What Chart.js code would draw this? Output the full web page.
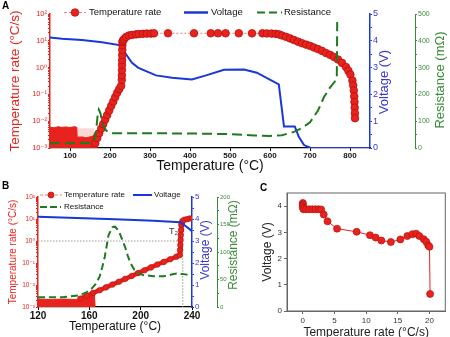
<!DOCTYPE html>
<html><head><meta charset="utf-8">
<script src="https://cdn.jsdelivr.net/npm/chart.js@4.4.1/dist/chart.umd.min.js"></script>
<style>
html,body{margin:0;padding:0;background:#fff;width:450px;height:337px;overflow:hidden;position:relative;font-family:'Liberation Sans',Arial,sans-serif}
canvas{position:absolute}
.lbl{position:absolute;font-weight:bold;font-size:10px;line-height:10px;color:#000}
</style></head><body>
<canvas id="cA" width="450" height="175" style="left:0;top:0;width:450px;height:175px"></canvas>
<canvas id="cB" width="245" height="165" style="left:0;top:175px;width:245px;height:165px"></canvas>
<canvas id="cC" width="205" height="166" style="left:245px;top:175px;width:205px;height:166px"></canvas>
<div class="lbl" style="left:2px;top:1px">A</div>
<div class="lbl" style="left:2px;top:181px">B</div>
<div class="lbl" style="left:260px;top:183px">C</div>
<script>
// ---------- shared tick labels ----------
const rateTickValues = [0.001, 0.01, 0.1, 1, 10, 100];
const rateTickLabels = ['10⁻³', '10⁻²', '10⁻¹', '10⁰', '10¹', '10²'];
const voltTicks = [0, 1, 2, 3, 4, 5];

// ---------- Panel A ----------
const aTicksT = [100, 200, 300, 400, 500, 600, 700, 800];
const aResTicks = [0, 100, 200, 300, 400, 500];
const aNoiseT    = [50, 60, 70, 80, 90, 100, 110, 117, 118, 130, 140, 150, 158, 163, 167, 168];
const aNoiseRate = [0.0060, 0.0057, 0.0062, 0.0059, 0.0061, 0.0058, 0.0062, 0.0060, 0.0025, 0.0026, 0.0024, 0.0026, 0.0028, 0.0040, 0.0045, 0.001];
const aHazeT    = [118, 160];
const aHazeRate = [0.0055, 0.0055];
const aRateT = [163, 168, 173, 178, 183, 188, 193, 198, 203, 208, 213, 218, 223, 228,
  229.5, 229.7, 229.9, 230.1, 230.3, 230.5, 230.7, 230.9, 231.2, 232,
  235, 240, 247, 255, 265, 272, 282, 292, 302, 310, 345, 410, 452, 470, 489, 522, 555, 581, 592, 604, 614, 622,
  630, 640, 650, 660, 670, 680, 690, 700, 710, 720, 730, 740, 750, 760, 770, 780, 790, 796, 801, 806, 808, 809.5, 810.5, 811.2, 811.8, 812.2, 812.5];
const aRateVal = [0.00151, 0.00234, 0.00355, 0.00525, 0.00776, 0.0115, 0.017, 0.0251, 0.0372, 0.0537, 0.0794, 0.115, 0.158, 0.209,
  0.35, 0.52, 0.81, 1.26, 1.9, 2.95, 4.6, 6.9, 9.1, 10.0,
  11.5, 13.8, 15.8, 16.6, 17.4, 17.8, 18.2, 18.6, 18.6, 19.0, 19.1, 19.1, 19.1, 19.1, 19.1, 19.1, 19.0, 19.0, 18.8, 18.6, 18.2, 17.4,
  15.8, 14.1, 12.3, 10.7, 9.3, 8.1, 7.2, 6.5, 5.6, 4.9, 4.2, 3.5, 3.0, 2.5, 2.0, 1.5, 1.05, 0.76, 0.55, 0.33, 0.22, 0.14, 0.085, 0.052, 0.032, 0.02, 0.013];
const aVoltT = [50, 80, 130, 180, 227, 232, 240, 255, 270, 290, 315, 355, 405, 440, 485, 535, 567, 622, 635, 662, 672, 685, 702, 850];
const aVoltV = [4.12, 4.08, 4.03, 3.95, 3.83, 3.7, 3.5, 3.18, 3.0, 2.87, 2.71, 2.62, 2.56, 2.71, 2.92, 2.93, 2.81, 2.37, 0.8, 0.8, 0.42, 0.11, 0.0, 0.0];
const aResT = [50, 100, 150, 158, 163, 166, 169, 172, 176, 180, 185, 190, 197, 205, 300, 400, 500, 560, 600, 630, 660, 680, 700, 720, 735, 750, 763, 767, 768];
const aResV = [18, 18, 19, 24, 40, 75, 120, 143, 130, 100, 78, 66, 58, 55, 55, 54, 52, 47, 45, 48, 60, 75, 96, 140, 190, 225, 250, 258, 470];

// ---------- Panel B ----------
const bTicksT = [120, 160, 200, 240];
const bResTicks = [0, 50, 100, 150, 200];
const bBandT    = [120, 130, 140, 150, 153, 158, 164, 164.5];
const bBandRate = [0.0023, 0.0022, 0.0023, 0.0022, 0.0024, 0.0029, 0.0036, 0.001];
const bRateT = [153, 158, 163, 168, 173, 178, 183, 188, 193, 198, 203, 208, 213, 218, 223, 228, 230.5,
  230.7, 230.9, 231.1, 231.3, 231.5, 231.7, 232, 232.5, 234, 236, 238, 240];
const bRateVal = [0.0024, 0.0032, 0.0044, 0.0058, 0.0078, 0.0105, 0.0141, 0.019, 0.0257, 0.0347, 0.0468, 0.0631, 0.0851, 0.112, 0.148, 0.195, 0.229,
  0.39, 0.66, 1.12, 1.86, 3.16, 5.4, 6.3, 8.0, 9.3, 9.8, 10.5, 10.7];
const bVoltT = [120, 150, 180, 210, 231, 235, 240];
const bVoltV = [4.10, 4.05, 3.99, 3.92, 3.85, 3.68, 3.45];
const bResT = [120, 140, 152, 158, 162, 165, 168, 170, 172, 175, 178, 180, 183, 186, 188, 190, 192, 195, 198, 202, 210, 218, 224, 228, 232, 240];
const bResV = [17.5, 18, 21, 27, 34, 42, 55, 72, 91, 131, 145, 146, 138, 120, 108, 93, 80, 68, 61, 58, 56, 56, 59, 61, 60, 58];
const bRefT = [120, 232.8, 232.8];
const bRefRate = [1, 1, 0.001];

// ---------- Panel C ----------
const cTicksX = [0, 5, 10, 15, 20];
const cTicksY = [0, 1, 2, 3, 4];
const cRate = [0, 0, 0, 0, 0.1, 0.5, 1, 1.5, 2, 2.5, 2.9, 3.3, 3.9, 5.4, 8.5, 10.6, 11.5, 12.4, 13.9, 15.4, 16.5, 17.3, 17.9, 18.4, 19.1, 19.5, 19.8, 20.0, 20.1];
const cVolt = [4.12, 4.06, 4.0, 3.94, 3.88, 3.88, 3.88, 3.88, 3.88, 3.88, 3.87, 3.68, 3.42, 3.14, 3.02, 2.89, 2.8, 2.69, 2.63, 2.73, 2.86, 2.93, 2.95, 2.86, 2.74, 2.64, 2.5, 2.45, 0.65];

// ---------- styling ----------
const FAM = "'Liberation Sans', Arial, 'DejaVu Sans', sans-serif";
const RED = '#e8231d', RED_DARK = '#b81010', RED_LIGHT = '#f07a7a';
const BLUE = '#1a37d8', BLUE_AX = '#3838cc';
const GREEN = '#1e7a1e', GREEN_AX = '#3a8a3a';
Chart.defaults.font.family = FAM;
Chart.defaults.animation = false;

const zip = (xs, ys) => xs.map((x, i) => ({x: x, y: ys[i]}));
const fixTicks = vals => s => { s.ticks = vals.map(v => ({value: v})); };
const steps = (a, b, st) => { const o = []; for (let v = a; v <= b + 1e-9; v += st) o.push(+v.toFixed(4)); return o; };
const supLabel = v => { const i = rateTickValues.findIndex(t => Math.abs(t - v) / t < 1e-6); return i >= 0 ? rateTickLabels[i] : ''; };
function logMinor() { const out = []; for (let k = -3; k < 2; k++) for (let m = 1; m < 10; m++) out.push(+(m * Math.pow(10, k)).toPrecision(6)); out.push(100); return out; }
const onlyIn = arr => v => arr.some(a => Math.abs(a - v) < 1e-6) ? String(v) : '';

function decoPlugin(items) {
  return { id: 'deco', afterDraw(chart) {
    const ctx = chart.ctx;
    items.forEach(it => {
      ctx.save();
      if (it.type === 'seg') {
        ctx.strokeStyle = it.color; ctx.lineWidth = it.width; ctx.setLineDash(it.dash || []);
        ctx.beginPath(); ctx.moveTo(it.x1, it.y); ctx.lineTo(it.x2, it.y); ctx.stroke();
      } else if (it.type === 'dot') {
        ctx.fillStyle = it.color; ctx.strokeStyle = it.stroke; ctx.lineWidth = 0.8;
        ctx.beginPath(); ctx.arc(it.x, it.y, it.r, 0, Math.PI * 2); ctx.fill(); ctx.stroke();
      } else if (it.type === 'text' || it.type === 'dtext') {
        let x = it.x, y = it.y;
        if (it.type === 'dtext') { x = chart.scales.x.getPixelForValue(it.xv); y = chart.scales[it.axis].getPixelForValue(it.yv); }
        ctx.font = it.font; ctx.fillStyle = it.color; ctx.translate(x, y); ctx.rotate(it.rot || 0);
        ctx.textAlign = it.align || 'left'; ctx.textBaseline = 'middle'; ctx.fillText(it.text, 0, 0);
      } else if (it.type === 'frame') {
        const a = chart.chartArea; ctx.strokeStyle = it.color; ctx.lineWidth = it.width;
        ctx.strokeRect(a.left, a.top, a.right - a.left, a.bottom - a.top);
      }
      ctx.restore();
    });
  }};
}
const f = (s, w) => (w ? w + ' ' : '') + s + 'px ' + FAM;

// ================= Chart A =================
new Chart(document.getElementById('cA'), {
  type: 'line',
  data: { datasets: [
    {label: 'noise', data: zip(aNoiseT, aNoiseRate), yAxisID: 'y', borderColor: RED, borderWidth: 1, backgroundColor: RED, fill: 'start', pointRadius: 0, order: 6},
    {label: 'haze', data: zip(aHazeT, aHazeRate), yAxisID: 'y', borderWidth: 0, backgroundColor: 'rgba(232,35,29,0.18)', fill: 'start', pointRadius: 0, order: 7},
    {label: 'Temperature rate', data: zip(aRateT, aRateVal), yAxisID: 'y', borderColor: RED_LIGHT, borderWidth: 1, borderDash: [2, 2],
      pointRadius: 3.8, pointBackgroundColor: RED, pointBorderColor: RED_DARK, pointBorderWidth: 0.8, order: 2},
    {label: 'Voltage', data: zip(aVoltT, aVoltV), yAxisID: 'y1', borderColor: BLUE, borderWidth: 2, pointRadius: 0, order: 3},
    {label: 'Resistance', data: zip(aResT, aResV), yAxisID: 'y2', borderColor: GREEN, borderWidth: 2, borderDash: [10, 5], pointRadius: 0, order: 1}
  ]},
  options: {
    responsive: false, animation: false, devicePixelRatio: 1,
    layout: {padding: {top: 14, left: 0, right: 0, bottom: 0}},
    plugins: {legend: {display: false}, tooltip: {enabled: false}},
    scales: {
      x: {type: 'linear', position: 'bottom', min: 50, max: 850, afterBuildTicks: fixTicks(aTicksT), afterFit: s => { s.height = 27; },
        ticks: {color: '#111', font: {size: 8, weight: 'bold'}, padding: 0, autoSkip: false, maxRotation: 0},
        grid: {drawOnChartArea: false, color: '#000', tickLength: 3}, border: {color: '#000', width: 1.2},
        title: {display: true, text: 'Temperature (°C)', color: '#111', font: {size: 14}, padding: {top: 0, bottom: 0}}},
      y: {type: 'logarithmic', position: 'left', min: 0.001, max: 100, afterBuildTicks: fixTicks(logMinor()), afterFit: s => { s.width = 50; },
        ticks: {color: RED, font: {size: 7.5}, padding: 1, autoSkip: false, callback: supLabel},
        grid: {drawOnChartArea: false, color: RED, tickLength: 2}, border: {color: RED, width: 1.5},
        title: {display: true, text: 'Temperature rate (°C/s)', color: RED, font: {size: 13.5}, padding: {top: 7, bottom: 0}}},
      y1: {type: 'linear', position: 'right', min: 0, max: 5, afterBuildTicks: fixTicks(steps(0, 5, 0.5)), afterFit: s => { s.width = 45; },
        ticks: {color: BLUE_AX, font: {size: 9}, padding: 1, autoSkip: false, callback: onlyIn(voltTicks)},
        grid: {drawOnChartArea: false, color: BLUE, tickLength: 2}, border: {color: BLUE, width: 1.5}},
      y2: {type: 'linear', position: 'right', min: 0, max: 500, afterBuildTicks: fixTicks(steps(0, 500, 50)), afterFit: s => { s.width = 35; },
        ticks: {color: GREEN_AX, font: {size: 7}, padding: 1, autoSkip: false, callback: onlyIn(aResTicks)},
        grid: {drawOnChartArea: false, color: GREEN_AX, tickLength: 2}, border: {color: GREEN_AX, width: 1}}
    }
  },
  plugins: [decoPlugin([
    {type: 'seg', x1: 64, x2: 86, y: 12.5, color: RED_LIGHT, width: 1.2, dash: [3, 2]},
    {type: 'dot', x: 75, y: 12.5, r: 3.8, color: RED, stroke: RED_DARK},
    {type: 'text', text: 'Temperature rate', x: 89, y: 12.5, color: '#111', font: f(9.5)},
    {type: 'seg', x1: 184, x2: 208, y: 12.5, color: BLUE, width: 2.5},
    {type: 'text', text: 'Voltage', x: 211, y: 12.5, color: '#111', font: f(9.5)},
    {type: 'seg', x1: 257, x2: 282, y: 12.5, color: GREEN, width: 2, dash: [8, 4]},
    {type: 'text', text: 'Resistance', x: 284, y: 12.5, color: '#111', font: f(9.5)},
    {type: 'text', text: 'Voltage (V)', x: 384, y: 82, rot: -Math.PI / 2, align: 'center', color: BLUE_AX, font: f(13)},
    {type: 'text', text: 'Resistance (mΩ)', x: 440, y: 80, rot: -Math.PI / 2, align: 'center', color: GREEN_AX, font: f(13)}
  ])]
});

// ================= Chart B =================
new Chart(document.getElementById('cB'), {
  type: 'line',
  data: { datasets: [
    {label: 'band', data: zip(bBandT, bBandRate), yAxisID: 'y', borderColor: RED, borderWidth: 1, backgroundColor: RED, fill: 'start', pointRadius: 0, order: 6},
    {label: 'ref', data: zip(bRefT, bRefRate), yAxisID: 'y', borderColor: '#999', borderWidth: 1, borderDash: [1.5, 1.5], pointRadius: 0, order: 7},
    {label: 'Temperature rate', data: zip(bRateT, bRateVal), yAxisID: 'y', borderColor: RED, borderWidth: 4.5,
      pointRadius: 2.8, pointBackgroundColor: RED, pointBorderColor: RED_DARK, pointBorderWidth: 0.6, order: 3},
    {label: 'Voltage', data: zip(bVoltT, bVoltV), yAxisID: 'y1', borderColor: BLUE, borderWidth: 2, pointRadius: 0, order: 2},
    {label: 'Resistance', data: zip(bResT, bResV), yAxisID: 'y2', borderColor: GREEN, borderWidth: 2, borderDash: [7, 4], pointRadius: 0, order: 1}
  ]},
  options: {
    responsive: false, animation: false, devicePixelRatio: 1,
    layout: {padding: {top: 22, left: 0, right: 0, bottom: 0}},
    plugins: {legend: {display: false}, tooltip: {enabled: false}},
    scales: {
      x: {type: 'linear', position: 'bottom', min: 120, max: 240, afterBuildTicks: fixTicks(bTicksT), afterFit: s => { s.height = 33; },
        ticks: {color: '#111', font: {size: 10, weight: 'bold'}, padding: 0, autoSkip: false, maxRotation: 0},
        grid: {drawOnChartArea: false, color: '#000', tickLength: 3}, border: {color: '#000', width: 1.2},
        title: {display: true, text: 'Temperature (°C)', color: '#111', font: {size: 12}, padding: {top: 0, bottom: 6}}},
      y: {type: 'logarithmic', position: 'left', min: 0.001, max: 100, afterBuildTicks: fixTicks(logMinor()), afterFit: s => { s.width = 38; },
        ticks: {color: RED, font: {size: 6.5}, padding: 1, autoSkip: false, callback: supLabel},
        grid: {drawOnChartArea: false, color: RED, tickLength: 2}, border: {color: RED, width: 1.5},
        title: {display: true, text: 'Temperature rate (°C/s)', color: RED, font: {size: 10}, padding: {top: 7.5, bottom: 0}}},
      y1: {type: 'linear', position: 'right', min: 0, max: 5, afterBuildTicks: fixTicks(steps(0, 5, 0.5)), afterFit: s => { s.width = 25; },
        ticks: {color: BLUE_AX, font: {size: 8}, padding: 1, autoSkip: false, callback: onlyIn(voltTicks)},
        grid: {drawOnChartArea: false, color: BLUE, tickLength: 2}, border: {color: BLUE, width: 1.5}},
      y2: {type: 'linear', position: 'right', min: 0, max: 200, afterBuildTicks: fixTicks(steps(0, 200, 25)), afterFit: s => { s.width = 28; },
        ticks: {color: GREEN_AX, font: {size: 6}, padding: 1, autoSkip: false, callback: onlyIn(bResTicks)},
        grid: {drawOnChartArea: false, color: GREEN_AX, tickLength: 2}, border: {color: GREEN_AX, width: 1}}
    }
  },
  plugins: [decoPlugin([
    {type: 'seg', x1: 40, x2: 62, y: 20, color: RED_LIGHT, width: 1.2, dash: [3, 2]},
    {type: 'dot', x: 51, y: 20, r: 3, color: RED, stroke: RED_DARK},
    {type: 'text', text: 'Temperature rate', x: 64, y: 20, color: '#111', font: f(8)},
    {type: 'seg', x1: 133, x2: 152, y: 20, color: BLUE, width: 2},
    {type: 'text', text: 'Voltage', x: 154, y: 20, color: '#111', font: f(8)},
    {type: 'seg', x1: 40, x2: 61, y: 32, color: GREEN, width: 2, dash: [7, 3]},
    {type: 'text', text: 'Resistance', x: 64, y: 32, color: '#111', font: f(8)},
    {type: 'text', text: 'Voltage (V)', x: 206, y: 75, rot: -Math.PI / 2, align: 'center', color: BLUE_AX, font: f(12)},
    {type: 'text', text: 'Resistance (mΩ)', x: 234, y: 70, rot: -Math.PI / 2, align: 'center', color: GREEN_AX, font: f(12)},
    {type: 'dtext', text: 'T₂', xv: 225.5, yv: 2.6, axis: 'y', align: 'center', color: '#333', font: f(9)}
  ])]
});

// ================= Chart C =================
new Chart(document.getElementById('cC'), {
  type: 'line',
  data: { datasets: [
    {label: 'Voltage', data: zip(cRate, cVolt), borderColor: RED, borderWidth: 1, pointRadius: 3.5,
      pointBackgroundColor: RED, pointBorderColor: RED_DARK, pointBorderWidth: 0.7}
  ]},
  options: {
    responsive: false, animation: false, devicePixelRatio: 1,
    layout: {padding: {top: 18, left: 0, right: 3, bottom: 0}},
    plugins: {legend: {display: false}, tooltip: {enabled: false}},
    scales: {
      x: {type: 'linear', position: 'bottom', min: -2.5, max: 22.5, afterBuildTicks: fixTicks(cTicksX), afterFit: s => { s.height = 30; },
        ticks: {color: '#333', font: {size: 8}, padding: 2, autoSkip: false, maxRotation: 0},
        grid: {drawOnChartArea: false, color: '#666', tickLength: 3}, border: {color: '#666', width: 1},
        title: {display: true, text: 'Temperature rate (°C/s)', color: '#222', font: {size: 12}, padding: {top: 0, bottom: 1}}},
      y: {type: 'linear', position: 'left', min: 0, max: 4.5, afterBuildTicks: fixTicks(cTicksY), afterFit: s => { s.width = 42; },
        ticks: {color: '#333', font: {size: 8}, padding: 2, autoSkip: false},
        grid: {drawOnChartArea: false, color: '#666', tickLength: 3}, border: {color: '#666', width: 1},
        title: {display: true, text: 'Voltage (V)', color: '#222', font: {size: 12}, padding: {top: 15, bottom: 0}}}
    }
  },
  plugins: [decoPlugin([{type: 'frame', color: '#666', width: 1}])]
});
</script>
</body></html>
